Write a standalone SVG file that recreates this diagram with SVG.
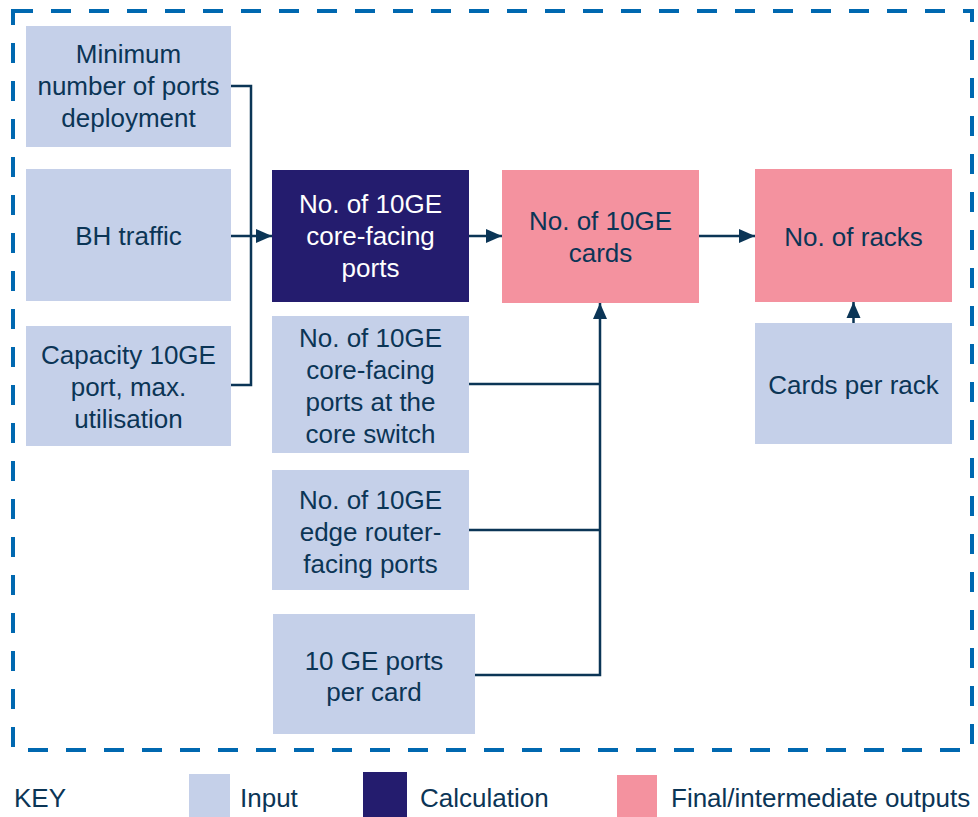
<svg xmlns="http://www.w3.org/2000/svg" width="978" height="817" viewBox="0 0 978 817">
<defs>
<style>
text{font-family:"Liberation Sans",Arial,sans-serif;font-size:26px;fill:#0B3556;text-anchor:middle}
.w{fill:#FFFFFF}
.l{text-anchor:start}
.in{fill:#C5D0E9}
.calc{fill:#241C6E}
.out{fill:#F4929F}
.c{fill:none;stroke:#0B3556;stroke-width:2.5}
</style>
<marker id="ah" markerUnits="userSpaceOnUse" markerWidth="16" markerHeight="16" viewBox="0 0 16 16" refX="16" refY="8" orient="auto">
<path d="M0,1 L16,8 L0,15 Z" fill="#0B3556"/>
</marker>
</defs>
<rect x="13" y="11" width="959" height="739" fill="none" stroke="#0068B0" stroke-width="4" stroke-dasharray="20 18"/>
<g id="n-min"><rect class="in" x="26" y="26" width="205" height="121"/><text x="128.5" y="63">Minimum</text><text x="128.5" y="95">number of ports</text><text x="128.5" y="127">deployment</text></g>
<g id="n-bh"><rect class="in" x="26" y="169" width="205" height="132"/><text x="128.5" y="245">BH traffic</text></g>
<g id="n-cap"><rect class="in" x="26" y="326" width="205" height="120"/><text x="128.5" y="364">Capacity 10GE</text><text x="128.5" y="396">port, max.</text><text x="128.5" y="428">utilisation</text></g>
<g id="n-calc"><rect class="calc" x="272" y="170" width="197" height="132"/><text class="w" x="370.5" y="213">No. of 10GE</text><text class="w" x="370.5" y="245">core-facing</text><text class="w" x="370.5" y="277">ports</text></g>
<g id="n-coresw"><rect class="in" x="272" y="316" width="197" height="137"/><text x="370.5" y="347">No. of 10GE</text><text x="370.5" y="379">core-facing</text><text x="370.5" y="411">ports at the</text><text x="370.5" y="443">core switch</text></g>
<g id="n-edge"><rect class="in" x="272" y="470" width="197" height="120"/><text x="370.5" y="509">No. of 10GE</text><text x="370.5" y="541">edge router-</text><text x="370.5" y="573">facing ports</text></g>
<g id="n-ppc"><rect class="in" x="273" y="614" width="202" height="120"/><text x="374" y="670">10 GE ports</text><text x="374" y="701">per card</text></g>
<g id="n-cards"><rect class="out" x="502" y="170" width="197" height="133"/><text x="600.5" y="230">No. of 10GE</text><text x="600.5" y="262">cards</text></g>
<g id="n-racks"><rect class="out" x="755" y="169" width="197" height="133"/><text x="853.5" y="246">No. of racks</text></g>
<g id="n-cpr"><rect class="in" x="755" y="323" width="197" height="121"/><text x="853.5" y="394">Cards per rack</text></g>
<g id="connectors">
<path class="c" d="M231,86 H251 V385 H231"/>
<path class="c" d="M231,236 H272" marker-end="url(#ah)"/>
<path class="c" d="M469,236 H502" marker-end="url(#ah)"/>
<path class="c" d="M699,236 H755" marker-end="url(#ah)"/>
<path class="c" d="M853.5,323 V302" marker-end="url(#ah)"/>
<path class="c" d="M475,675 H600 V303" marker-end="url(#ah)"/>
<path class="c" d="M469,384 H600"/>
<path class="c" d="M469,530 H600"/>
</g>
<g id="key">
<text class="l" x="14" y="807">KEY</text>
<rect class="in" x="189" y="774" width="41" height="43"/>
<text class="l" x="240" y="807">Input</text>
<rect class="calc" x="363" y="772" width="44" height="45"/>
<text class="l" x="420" y="807">Calculation</text>
<rect class="out" x="617" y="775" width="40" height="42"/>
<text class="l" x="671" y="807">Final/intermediate outputs</text>
</g>
</svg>
